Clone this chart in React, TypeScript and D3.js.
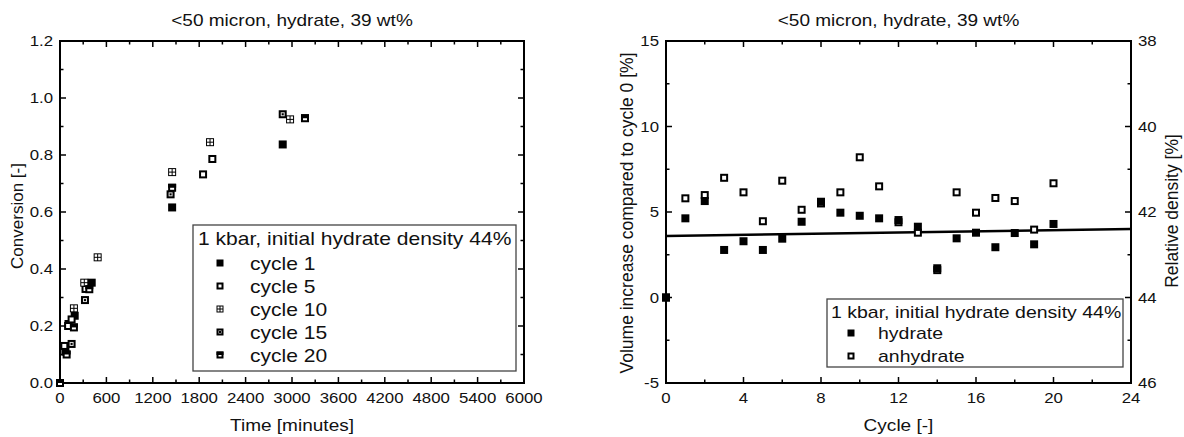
import React from "react";
import * as d3 from "d3";

// ---------- data ----------
const titleText = "<50 micron, hydrate, 39 wt%";
const legendTitle = "1 kbar, initial hydrate density 44%";

const timeTicks = [0, 600, 1200, 1800, 2400, 3000, 3600, 4200, 4800, 5400, 6000];
const convTicks = [0.0, 0.2, 0.4, 0.6, 0.8, 1.0, 1.2];

const cycle1Time = [0, 70, 110, 190, 410, 1450, 2880];
const cycle1Conv = [0, 0.11, 0.207, 0.236, 0.352, 0.616, 0.837];
const cycle5Time = [0, 56, 105, 150, 330, 1850, 1970];
const cycle5Conv = [0, 0.13, 0.2, 0.223, 0.33, 0.732, 0.786];
const cycle10Time = [0, 180, 314, 487, 1450, 1940, 2975];
const cycle10Conv = [0, 0.262, 0.352, 0.441, 0.74, 0.845, 0.925];
const cycle15Time = [0, 150, 323, 1430, 2880];
const cycle15Conv = [0, 0.137, 0.291, 0.662, 0.943];
const cycle20Time = [0, 86, 180, 379, 1450, 3168];
const cycle20Conv = [0, 0.1, 0.195, 0.329, 0.685, 0.929];

const cycleNames = ["cycle 1", "cycle 5", "cycle 10", "cycle 15", "cycle 20"];

const cycles = [0, 1, 2, 3, 4, 5, 6, 7, 8, 9, 10, 11, 12, 13, 14, 15, 16, 17, 18, 19, 20];
const hydrateVol = [0, 4.63, 5.64, 2.78, 3.29, 2.78, 3.44, 4.43, 5.6, 4.96, 4.78, 4.63, 4.53, 4.14, 1.71, 3.46, 3.79, 2.94, 3.77, 3.11, 4.3];
const anhydrateVol = [0, 5.8, 5.99, 7.0, 6.15, 4.46, 6.83, 5.13, 5.5, 6.15, 8.2, 6.5, 4.4, 3.79, 1.6, 6.15, 4.96, 5.82, 5.64, 3.97, 6.68];
const fitCycle = [0, 24];
const fitVol = [3.6, 4.0];

const cycleTicks = [0, 4, 8, 12, 16, 20, 24];
const volTicks = [-5, 0, 5, 10, 15];
const densTicks = [38, 40, 42, 44, 46];
const seriesNames2 = ["hydrate", "anhydrate"];

// ---------- layout ----------
const FONT = "'Liberation Sans', Arial, Helvetica, sans-serif";
const SX = 1.12;

const L = { x0: 60, x1: 524, y0: 41, y1: 383 };
const R = { x0: 666, x1: 1131, y0: 41, y1: 383 };

const xT = d3.scaleLinear().domain([0, 6000]).range([L.x0, L.x1]);
const yC = d3.scaleLinear().domain([0, 1.2]).range([L.y1, L.y0]);
const xC = d3.scaleLinear().domain([0, 24]).range([R.x0, R.x1]);
const yV = d3.scaleLinear().domain([-5, 15]).range([R.y1, R.y0]);
const yD = d3.scaleLinear().domain([46, 38]).range([R.y1, R.y0]);

function Txt({ x, y, size, anchor = "start", children, base = "alphabetic" }: any) {
  return (
    <text
      transform={`translate(${x},${y}) scale(${SX},1)`}
      fontSize={size}
      fontFamily={FONT}
      textAnchor={anchor}
      dominantBaseline={base}
      fill="#111"
    >
      {children}
    </text>
  );
}

function VTxt({ x, y, size, children }: any) {
  return (
    <text
      transform={`translate(${x},${y}) rotate(-90)`}
      fontSize={size}
      fontFamily={FONT}
      textAnchor="middle"
      dominantBaseline="central"
      fill="#111"
    >
      {children}
    </text>
  );
}

function Marker({ kind, x, y, s = 8 }: { kind: number; x: number; y: number; s?: number }) {
  const h = s / 2;
  if (kind === 0) return <rect x={x - h} y={y - h} width={s} height={s} fill="#000" />;
  if (kind === 1)
    return <rect x={x - h + 1} y={y - h + 1} width={s - 2} height={s - 2} fill="#fff" stroke="#000" strokeWidth={2} />;
  if (kind === 2) {
    const q = (s - 3) / 2;
    return (
      <g>
        <rect x={x - h} y={y - h} width={s} height={s} fill="#000" />
        <rect x={x - h + 1} y={y - h + 1} width={q} height={q} fill="#fff" />
        <rect x={x + 0.5} y={y - h + 1} width={q} height={q} fill="#fff" />
        <rect x={x - h + 1} y={y + 0.5} width={q} height={q} fill="#fff" />
        <rect x={x + 0.5} y={y + 0.5} width={q} height={q} fill="#fff" />
      </g>
    );
  }
  if (kind === 3)
    return (
      <g>
        <rect x={x - h} y={y - h} width={s} height={s} fill="#000" />
        <rect x={x - h + 2} y={y - h + 2} width={s - 4} height={s - 4} fill="#ddd" />
        <rect x={x - 1} y={y - 1} width={2} height={2} fill="#000" />
      </g>
    );
  return (
    <g>
      <rect x={x - h + 1} y={y - h + 1} width={s - 2} height={s - 2} fill="#fff" stroke="#000" strokeWidth={2} />
      <rect x={x - h} y={y - h} width={s} height={h} fill="#000" />
    </g>
  );
}

function Frame({ b }: any) {
  return (
    <rect x={b.x0} y={b.y0} width={b.x1 - b.x0} height={b.y1 - b.y0} fill="none" stroke="#000" strokeWidth={2} />
  );
}

export default function App() {
  const leftSeries = [
    [cycle1Time, cycle1Conv],
    [cycle5Time, cycle5Conv],
    [cycle10Time, cycle10Conv],
    [cycle15Time, cycle15Conv],
    [cycle20Time, cycle20Conv],
  ];
  const MAJ = 6;
  const MIN = 3.5;

  const lxMinor = d3.range(300, 6000, 600);
  const lyMinor = d3.range(0.1, 1.2, 0.2);
  const rxMinor = d3.range(2, 24, 4);
  const ryMinor = d3.range(-2.5, 15, 5);
  const rdMinor = d3.range(39, 46, 2);

  const line = d3
    .line<number>()
    .x((_, i) => xC(fitCycle[i]))
    .y((d) => yV(d));

  return (
    <svg width={1184} height={437} style={{ position: "absolute", left: 0, top: 0, background: "#fff" }}>
      <rect width={1184} height={437} fill="#fff" />
      {/* ---------- LEFT CHART ---------- */}
      <Txt x={(L.x0 + L.x1) / 2} y={26} size={17} anchor="middle">{titleText}</Txt>
      <g stroke="#000" strokeWidth={1.5}>
        {timeTicks.map((t) => (
          <g key={"tx" + t}>
            <line x1={xT(t)} x2={xT(t)} y1={L.y1} y2={L.y1 - MAJ} />
            <line x1={xT(t)} x2={xT(t)} y1={L.y0} y2={L.y0 + MAJ} />
          </g>
        ))}
        {lxMinor.map((t) => (
          <g key={"txm" + t}>
            <line x1={xT(t)} x2={xT(t)} y1={L.y1} y2={L.y1 - MIN} />
            <line x1={xT(t)} x2={xT(t)} y1={L.y0} y2={L.y0 + MIN} />
          </g>
        ))}
        {convTicks.map((t) => (
          <g key={"cy" + t}>
            <line x1={L.x0} x2={L.x0 + MAJ} y1={yC(t)} y2={yC(t)} />
            <line x1={L.x1} x2={L.x1 - MAJ} y1={yC(t)} y2={yC(t)} />
          </g>
        ))}
        {lyMinor.map((t) => (
          <g key={"cym" + t}>
            <line x1={L.x0} x2={L.x0 + MIN} y1={yC(t)} y2={yC(t)} />
            <line x1={L.x1} x2={L.x1 - MIN} y1={yC(t)} y2={yC(t)} />
          </g>
        ))}
      </g>
      <Frame b={L} />
      {timeTicks.map((t) => (
        <Txt key={"txl" + t} x={xT(t)} y={403} size={15} anchor="middle">{String(t)}</Txt>
      ))}
      {convTicks.map((t) => (
        <Txt key={"cyl" + t} x={L.x0 - 7} y={yC(t)} size={15} anchor="end" base="central">{t.toFixed(1)}</Txt>
      ))}
      <Txt x={(L.x0 + L.x1) / 2} y={431} size={17} anchor="middle">Time [minutes]</Txt>
      <VTxt x={17} y={216} size={17}>Conversion [-]</VTxt>

      {/* legend left */}
      <rect x={193} y={225} width={323} height={146} fill="#fff" stroke="#444" strokeWidth={1.3} />
      <Txt x={198} y={245} size={18.8}>{legendTitle}</Txt>
      {cycleNames.map((n, i) => (
        <g key={n}>
          <Marker kind={i} x={220} y={263 + i * 23} s={7} />
          <Txt x={250} y={263 + i * 23} size={18.8} base="central">{n}</Txt>
        </g>
      ))}

      {leftSeries.map(([ts, cs], k) =>
        ts.map((t, i) => <Marker key={k + "-" + i} kind={k} x={xT(t)} y={yC(cs[i])} />)
      )}

      {/* ---------- RIGHT CHART ---------- */}
      <Txt x={(R.x0 + R.x1) / 2} y={26} size={17} anchor="middle">{titleText}</Txt>
      <g stroke="#000" strokeWidth={1.5}>
        {cycleTicks.map((t) => (
          <g key={"rx" + t}>
            <line x1={xC(t)} x2={xC(t)} y1={R.y1} y2={R.y1 - MAJ} />
            <line x1={xC(t)} x2={xC(t)} y1={R.y0} y2={R.y0 + MAJ} />
          </g>
        ))}
        {rxMinor.map((t) => (
          <g key={"rxm" + t}>
            <line x1={xC(t)} x2={xC(t)} y1={R.y1} y2={R.y1 - MIN} />
            <line x1={xC(t)} x2={xC(t)} y1={R.y0} y2={R.y0 + MIN} />
          </g>
        ))}
        {volTicks.map((t) => (
          <line key={"vy" + t} x1={R.x0} x2={R.x0 + MAJ} y1={yV(t)} y2={yV(t)} />
        ))}
        {ryMinor.map((t) => (
          <line key={"vym" + t} x1={R.x0} x2={R.x0 + MIN} y1={yV(t)} y2={yV(t)} />
        ))}
        {densTicks.map((t) => (
          <line key={"dy" + t} x1={R.x1} x2={R.x1 - MAJ} y1={yD(t)} y2={yD(t)} />
        ))}
        {rdMinor.map((t) => (
          <line key={"dym" + t} x1={R.x1} x2={R.x1 - MIN} y1={yD(t)} y2={yD(t)} />
        ))}
      </g>
      <Frame b={R} />
      {cycleTicks.map((t) => (
        <Txt key={"rxl" + t} x={xC(t)} y={403} size={15} anchor="middle">{String(t)}</Txt>
      ))}
      {volTicks.map((t) => (
        <Txt key={"vyl" + t} x={R.x0 - 7} y={yV(t)} size={15} anchor="end" base="central">{String(t)}</Txt>
      ))}
      {densTicks.map((t) => (
        <Txt key={"dyl" + t} x={R.x1 + 7} y={yD(t)} size={15} base="central">{String(t)}</Txt>
      ))}
      <Txt x={(R.x0 + R.x1) / 2} y={431} size={17} anchor="middle">Cycle [-]</Txt>
      <VTxt x={627} y={213} size={17.5}>Volume increase compared to cycle 0 [%]</VTxt>
      <VTxt x={1172} y={211} size={17.5}>Relative density [%]</VTxt>

      <path d={line(fitVol) || ""} fill="none" stroke="#000" strokeWidth={2.5} />

      {cycles.map((c, i) => (
        <Marker key={"an" + c} kind={1} x={xC(c)} y={yV(anhydrateVol[i])} />
      ))}
      {cycles.map((c, i) => (
        <Marker key={"hy" + c} kind={0} x={xC(c)} y={yV(hydrateVol[i])} />
      ))}

      {/* legend right */}
      <rect x={827} y={299} width={296} height={68} fill="#fff" stroke="#444" strokeWidth={1.3} />
      <Txt x={831} y={318} size={17.4}>{legendTitle}</Txt>
      {seriesNames2.map((n, i) => (
        <g key={n}>
          <Marker kind={i} x={851} y={333 + i * 23} s={7} />
          <Txt x={878} y={333 + i * 23} size={17.4} base="central">{n}</Txt>
        </g>
      ))}
    </svg>
  );
}
